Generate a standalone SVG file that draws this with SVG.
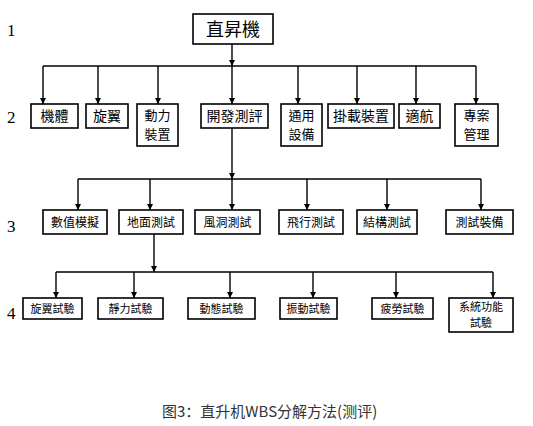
<svg xmlns="http://www.w3.org/2000/svg" width="533" height="426" viewBox="0 0 533 426">
<defs>
<marker id="ad" markerWidth="6" markerHeight="6" refX="3" refY="6" markerUnits="userSpaceOnUse" viewBox="0 0 6 6">
<path d="M0,0 L6,0 L3,6 z" fill="#000"/>
</marker>
</defs>
<style>
.box{fill:#fff;stroke:#000;stroke-width:1.6}
.t{font-family:"Noto Sans CJK TC","Noto Sans CJK SC",sans-serif;fill:#000;text-anchor:middle}
.t1{font-size:18px}
.t2{font-size:14px}
.t2b{font-size:13px}
.t3{font-size:12px}
.t4{font-size:11px}
.lv{font-family:"Liberation Serif",serif;font-size:17px;fill:#000}
.c{fill:none;stroke:#000;stroke-width:1.4}
.cap{font-family:"Noto Sans CJK SC",sans-serif;font-size:15px;fill:#333}
</style>
<rect width="533" height="426" fill="#fff"/>
<g id="levels">
<text class="lv" x="7" y="36">1</text>
<text class="lv" x="7" y="123">2</text>
<text class="lv" x="7" y="232">3</text>
<text class="lv" x="7" y="319">4</text>
</g>
<g id="connectors">
<line class="c" x1="232" y1="44" x2="232" y2="66" marker-end="url(#ad)"/>
<line class="c" x1="43" y1="66" x2="476" y2="66"/>
<line class="c" x1="43" y1="66" x2="43" y2="104" marker-end="url(#ad)"/>
<line class="c" x1="98" y1="66" x2="98" y2="104" marker-end="url(#ad)"/>
<line class="c" x1="158" y1="66" x2="158" y2="104" marker-end="url(#ad)"/>
<line class="c" x1="232" y1="66" x2="232" y2="104" marker-end="url(#ad)"/>
<line class="c" x1="298" y1="66" x2="298" y2="104" marker-end="url(#ad)"/>
<line class="c" x1="357" y1="66" x2="357" y2="104" marker-end="url(#ad)"/>
<line class="c" x1="416" y1="66" x2="416" y2="104" marker-end="url(#ad)"/>
<line class="c" x1="476" y1="66" x2="476" y2="104" marker-end="url(#ad)"/>
<line class="c" x1="232" y1="128" x2="232" y2="179" marker-end="url(#ad)"/>
<line class="c" x1="78" y1="179" x2="481" y2="179"/>
<line class="c" x1="78" y1="179" x2="78" y2="210" marker-end="url(#ad)"/>
<line class="c" x1="150" y1="179" x2="150" y2="210" marker-end="url(#ad)"/>
<line class="c" x1="232" y1="179" x2="232" y2="210" marker-end="url(#ad)"/>
<line class="c" x1="307" y1="179" x2="307" y2="210" marker-end="url(#ad)"/>
<line class="c" x1="387" y1="179" x2="387" y2="210" marker-end="url(#ad)"/>
<line class="c" x1="481" y1="179" x2="481" y2="210" marker-end="url(#ad)"/>
<line class="c" x1="154" y1="234" x2="154" y2="272" marker-end="url(#ad)"/>
<line class="c" x1="56" y1="272" x2="493" y2="272"/>
<line class="c" x1="56" y1="272" x2="56" y2="298" marker-end="url(#ad)"/>
<line class="c" x1="134" y1="272" x2="134" y2="298" marker-end="url(#ad)"/>
<line class="c" x1="230" y1="272" x2="230" y2="298" marker-end="url(#ad)"/>
<line class="c" x1="313" y1="272" x2="313" y2="298" marker-end="url(#ad)"/>
<line class="c" x1="396" y1="272" x2="396" y2="298" marker-end="url(#ad)"/>
<line class="c" x1="493" y1="272" x2="493" y2="298" marker-end="url(#ad)"/>
</g>
<g id="root"><rect class="box" x="193" y="14" width="80" height="30"/><text class="t t1" x="233" y="35.5">直昇機</text></g>
<g id="n-jiti"><rect class="box" x="31" y="104" width="47" height="24"/><text class="t t2" x="54.5" y="121">機體</text></g>
<g id="n-xuanyi"><rect class="box" x="86" y="104" width="42" height="24"/><text class="t t2" x="107" y="121">旋翼</text></g>
<g id="n-dongli"><rect class="box" x="137" y="104" width="41" height="42"/><text class="t t2b" x="157.5" y="120">動力</text><text class="t t2b" x="157.5" y="139">裝置</text></g>
<g id="n-kaifa"><rect class="box" x="201" y="104" width="67" height="24"/><text class="t t2" x="234.5" y="121">開發測評</text></g>
<g id="n-tongyong"><rect class="box" x="281" y="104" width="41" height="42"/><text class="t t2b" x="301.5" y="120">通用</text><text class="t t2b" x="301.5" y="139">設備</text></g>
<g id="n-guazai"><rect class="box" x="328" y="104" width="66" height="24"/><text class="t t2" x="361" y="121">掛載裝置</text></g>
<g id="n-shihang"><rect class="box" x="399" y="104" width="41" height="24"/><text class="t t2" x="419.5" y="121">適航</text></g>
<g id="n-zhuanan"><rect class="box" x="455" y="104" width="43" height="42"/><text class="t t2b" x="476.5" y="120">專案</text><text class="t t2b" x="476.5" y="139">管理</text></g>
<g id="n-shuzhi"><rect class="box" x="43" y="210" width="64" height="24"/><text class="t t3" x="75" y="226.5">數值模擬</text></g>
<g id="n-dimian"><rect class="box" x="119" y="210" width="64" height="24"/><text class="t t3" x="151" y="226.5">地面測試</text></g>
<g id="n-fengdong"><rect class="box" x="195" y="210" width="65" height="24"/><text class="t t3" x="227.5" y="226.5">風洞測試</text></g>
<g id="n-feixing"><rect class="box" x="279" y="210" width="64" height="24"/><text class="t t3" x="311" y="226.5">飛行測試</text></g>
<g id="n-jiegou"><rect class="box" x="357" y="210" width="60" height="24"/><text class="t t3" x="387" y="226.5">結構測試</text></g>
<g id="n-zhuangbei"><rect class="box" x="446" y="210" width="67" height="24"/><text class="t t3" x="479.5" y="226.5">測試裝備</text></g>
<g id="n-xuanyishiyan"><rect class="box" x="23" y="298" width="59" height="21"/><text class="t t4" x="52.5" y="312.5">旋翼試驗</text></g>
<g id="n-jingli"><rect class="box" x="98" y="298" width="65" height="21"/><text class="t t4" x="130.5" y="312.5">靜力試驗</text></g>
<g id="n-dongtai"><rect class="box" x="188" y="298" width="67" height="21"/><text class="t t4" x="221.5" y="312.5">動態試驗</text></g>
<g id="n-zhendong"><rect class="box" x="280" y="298" width="57" height="21"/><text class="t t4" x="308.5" y="312.5">振動試驗</text></g>
<g id="n-pilao"><rect class="box" x="372" y="298" width="61" height="21"/><text class="t t4" x="402.5" y="312.5">疲勞試驗</text></g>
<g id="n-xitong"><rect class="box" x="449" y="298" width="64" height="34"/><text class="t t4" x="481" y="311">系統功能</text><text class="t t4" x="481" y="327">試驗</text></g>
<g id="caption"><text class="cap" x="162" y="417">图3：直升机WBS分解方法(测评)</text></g>
</svg>
